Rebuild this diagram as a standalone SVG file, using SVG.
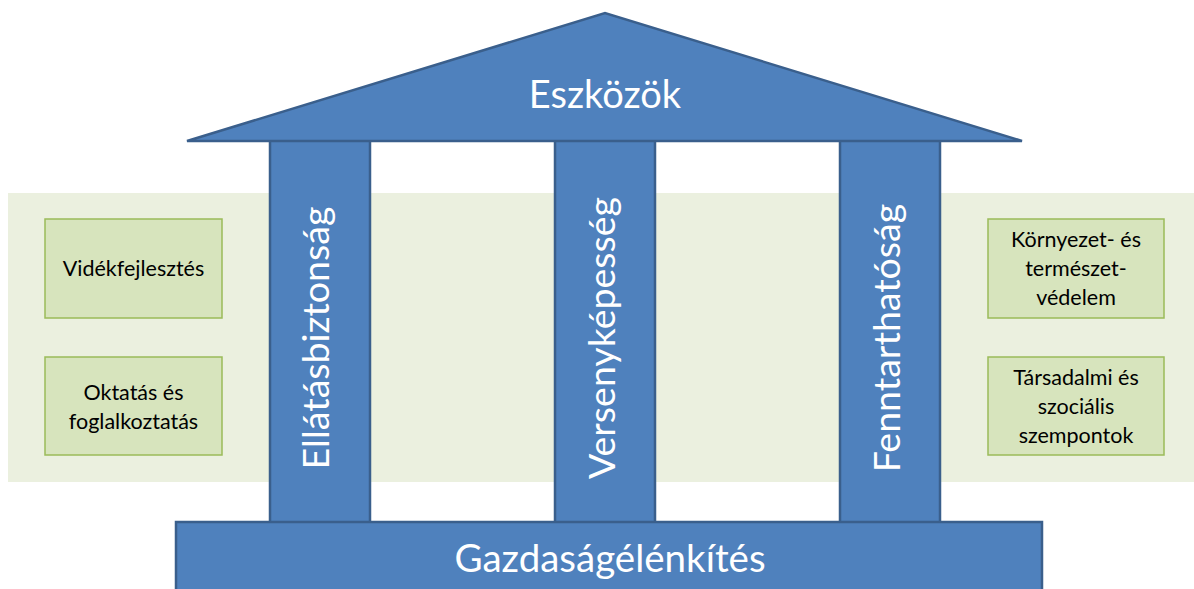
<svg xmlns="http://www.w3.org/2000/svg" width="1194" height="589" viewBox="0 0 1194 589">
<style>
.blue{fill:#4f81bd;stroke:#3a5f8c;stroke-width:2.5}
.box{fill:#d7e4bd;stroke:#9bbb59;stroke-width:1.5}
.big{font-family:Lato,"Open Sans",sans-serif;fill:#ffffff;text-anchor:middle}
.sm{font-family:Lato,"Open Sans",sans-serif;fill:#000000;font-size:21.5px;text-anchor:middle}
</style>
<rect width="1194" height="589" fill="#ffffff"/>
<rect x="8" y="193" width="1186" height="289" fill="#ebf0df"/>
<g id="box-videk"><rect class="box" x="45" y="219" width="177" height="99"/><text class="sm" x="133.5" y="276">Vidékfejlesztés</text></g>
<g id="box-oktatas"><rect class="box" x="45" y="357" width="177" height="98"/><text class="sm" x="133.5" y="400">Oktatás és</text><text class="sm" x="133.5" y="429">foglalkoztatás</text></g>
<g id="box-kornyezet"><rect class="box" x="988" y="219" width="176" height="99"/><text class="sm" x="1076" y="247">Környezet- és</text><text class="sm" x="1076" y="276">természet-</text><text class="sm" x="1076" y="305">védelem</text></g>
<g id="box-tarsadalmi"><rect class="box" x="988" y="357" width="176" height="98"/><text class="sm" x="1076" y="385">Társadalmi és</text><text class="sm" x="1076" y="414">szociális</text><text class="sm" x="1076" y="443">szempontok</text></g>
<g id="pillar-1"><rect class="blue" x="270" y="140" width="100" height="383"/><text class="big" font-size="37.5" transform="translate(329,338) rotate(-90)">Ellátásbiztonság</text></g>
<g id="pillar-2"><rect class="blue" x="555" y="140" width="100" height="383"/><text class="big" font-size="37.5" transform="translate(615,338) rotate(-90)">Versenyképesség</text></g>
<g id="pillar-3"><rect class="blue" x="840" y="140" width="100" height="383"/><text class="big" font-size="37.5" transform="translate(900,338) rotate(-90)">Fenntarthatóság</text></g>
<g id="roof"><polygon class="blue" points="187,141 605,13 1022,141"/><text class="big" font-size="38" x="605" y="108">Eszközök</text></g>
<g id="base"><rect class="blue" x="176" y="522" width="866" height="72"/><text class="big" font-size="38.5" x="610" y="572">Gazdaságélénkítés</text></g>
<g id="connectors"/>
</svg>
